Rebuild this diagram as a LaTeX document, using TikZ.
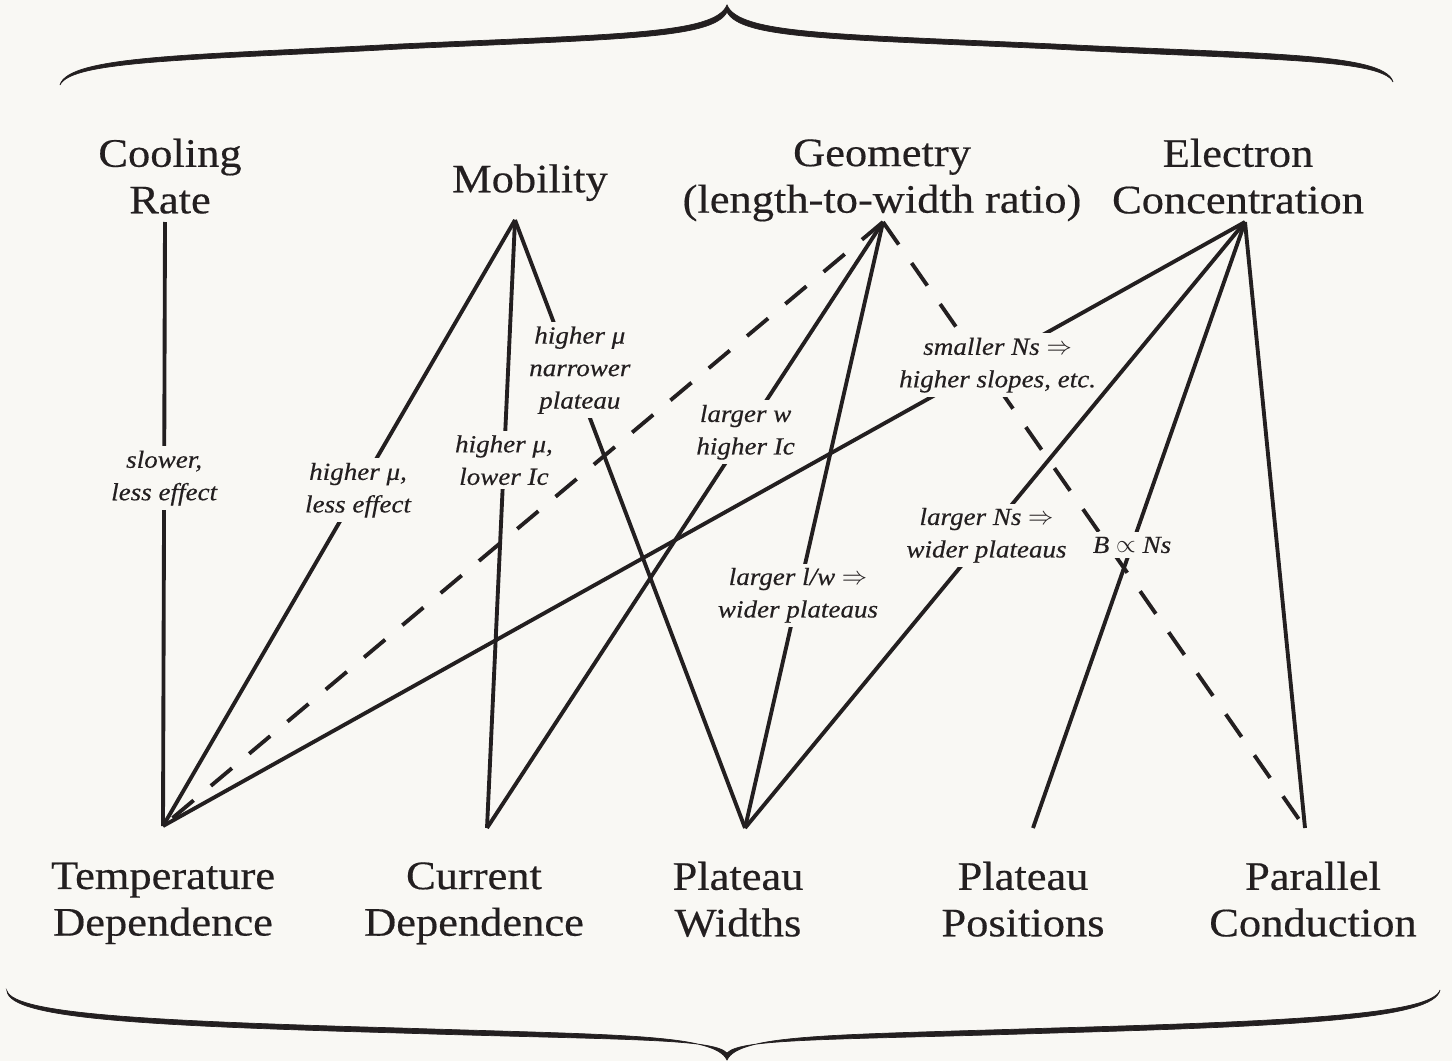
\documentclass[tikz,border=0pt]{standalone}
\usepackage{fontspec}
\setmainfont[FakeStretch=1.1, FakeBold=0.4]{Liberation Serif}
\definecolor{paper}{RGB}{249,248,244}
\definecolor{ink}{RGB}{35,31,32}

\begin{document}
\begin{tikzpicture}[x=0.02cm, y=-0.02cm,
    topic/.style={align=center, text=ink, font=\fontsize{23}{26.5}\selectfont,
      execute at begin node=\strut, execute at end node=\strut},
    note/.style={align=center, text=ink, fill=paper, inner sep=2.5pt,
      font=\fontsize{14}{18.5}\selectfont\itshape},
    link/.style={ink, line width=2.2pt},
    hint/.style={link, dash pattern=on 0.55cm off 0.45cm},
    brace/.style={fill=ink, draw=ink, line width=0.4pt}]
  \fill [paper] (0,0) rectangle (1452,1061);
  \useasboundingbox (0,0) rectangle (1452,1061);

  % braces
  \path [brace] (60,85) .. controls (68,55) and (200,55) .. (400,44)
    .. controls (620,34) and (715,34) .. (727,5)
    .. controls (739,34) and (834,34) .. (1054,44)
    .. controls (1254,54) and (1385,52) .. (1393,82)
    .. controls (1382,58) and (1254,60) .. (1054,49)
    .. controls (834,39) and (741,39) .. (727,12)
    .. controls (713,39) and (620,39) .. (400,49)
    .. controls (200,60) and (71,60) .. cycle;
  \path [brace] (7,991) .. controls (15,1014) and (150,1021) .. (400,1028)
    .. controls (620,1035) and (715,1034) .. (727,1060)
    .. controls (739,1034) and (834,1035) .. (1054,1028)
    .. controls (1300,1021) and (1432,1014) .. (1440,990)
    .. controls (1434,1019) and (1300,1026) .. (1054,1033)
    .. controls (834,1040) and (741,1038) .. (727,1053)
    .. controls (713,1038) and (620,1040) .. (400,1033)
    .. controls (150,1026) and (10,1019) .. cycle;

  % causes
  \node [topic] (cool) at (170,183)                  {Cooling\\Rate};
  \node [topic] (mob)  at ([shift={(360,0)}] cool) {Mobility};
  \node [topic] (geo)  at ([shift={(352,0)}] mob)  {Geometry\\(length-to-width ratio)};
  \node [topic] (elec) at ([shift={(356,0)}] geo)  {Electron\\Concentration};

  % effects
  \node [topic] (temp) at (163,906)                  {Temperature\\Dependence};
  \node [topic] (curr) at ([shift={(311,0)}] temp) {Current\\Dependence};
  \node [topic] (wid)  at ([shift={(264,0)}] curr) {Plateau\\Widths};
  \node [topic] (pos)  at ([shift={(285,0)}] wid)  {Plateau\\Positions};
  \node [topic] (par)  at ([shift={(290,0)}] pos)  {Parallel\\Conduction};

  \coordinate (cool-b) at ([shift={(-5,39)}] cool);
  \coordinate (mob-b)  at ([shift={(-15,37)}] mob);
  \coordinate (geo-b)  at ([shift={(1,39)}] geo);
  \coordinate (elec-b) at ([shift={(7,39)}] elec);
  \coordinate (temp-t) at ([shift={(0,-80)}] temp);
  \coordinate (curr-t) at ([shift={(13,-78)}] curr);
  \coordinate (wid-t)  at ([shift={(7,-78)}] wid);
  \coordinate (pos-t)  at ([shift={(10,-78)}] pos);
  \coordinate (par-t)  at ([shift={(-8,-78)}] par);

  \draw [hint] (geo-b) -- (temp-t);
  \draw [hint] (geo-b) -- (par-t);

  \draw [link] (cool-b) -- node [note, pos=0.424] (slow) {slower,\\less effect} (temp-t);
  \draw [link] (mob-b) -- node [note, pos=0.446] (mu-t) {higher μ,\\less effect} (temp-t);
  \draw [link] (mob-b) -- node [note, pos=0.395] (mu-c) {higher μ,\\lower Ic} (curr-t);
  \draw [link] (mob-b) -- node [note, pos=0.247, xshift=0.16cm] (mu-w) {higher μ\\narrower\\plateau} (wid-t);
  \draw [link] (elec-b) -- node [note, pos=0.237, xshift=0.18cm] (ns-t) {smaller Ns $\Rightarrow$\\higher slopes, etc.} (temp-t);
  \draw [link] (geo-b) -- node [note, pos=0.347] (w-c) {larger w\\higher Ic} (curr-t);
  \draw [link] (geo-b) -- node [note, pos=0.616] (lw-w) {larger l/w $\Rightarrow$\\wider plateaus} (wid-t);
  \draw [link] (elec-b) -- node [note, pos=0.517] (ns-w) {larger Ns $\Rightarrow$\\wider plateaus} (wid-t);
  \draw [link] (elec-b) -- node [note, pos=0.533] (b-p) {B $\propto$ Ns} (pos-t);
  \draw [link] (elec-b) -- (par-t);
\end{tikzpicture}
\end{document}
